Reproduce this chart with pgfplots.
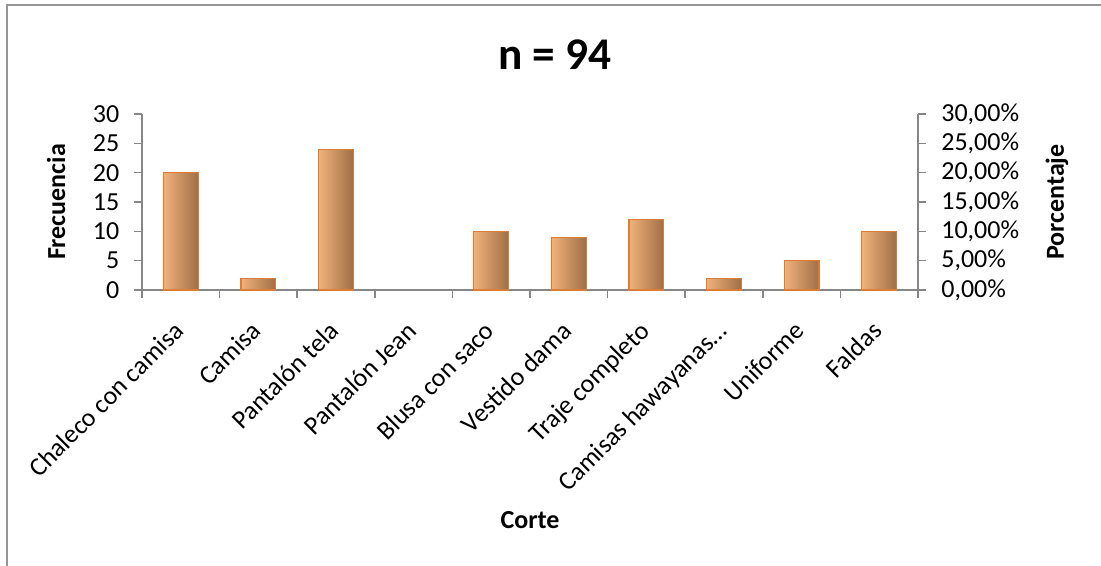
\documentclass[border=0pt]{standalone}
\usepackage{pgfplots}
\pgfplotsset{compat=1.18}
\usepackage{fontspec}
\setmainfont{Carlito}
\definecolor{axgray}{RGB}{134,134,134}
\definecolor{framegray}{RGB}{150,150,150}
\definecolor{barL}{RGB}{240,178,122}
\definecolor{barM}{RGB}{254,238,222}
\definecolor{barR}{RGB}{160,110,70}
\definecolor{barE}{RGB}{220,125,55}
\pgfplotsset{
  mybar/.style={ybar, bar width=26pt, bar shift=0pt, draw=barE, line width=0.9pt,
    left color=barL, middle color=barM, right color=barR},
}
\begin{document}
\begin{tikzpicture}
\useasboundingbox (-106.5pt,-206.25pt) rectangle (719.25pt,217.5pt);
\draw[framegray, line width=1.5pt] (-101.25pt,-260pt) rectangle (760pt,213.75pt);
\begin{axis}[
  scale only axis, width=582pt, height=132pt,
  xmin=-0.5, xmax=9.5, ymin=0, ymax=30,
  axis x line*=bottom, axis y line*=left,
  axis line style={axgray, line width=1.2pt},
  xtick={-0.5,0.5,1.5,2.5,3.5,4.5,5.5,6.5,7.5,8.5,9.5},
  x tick label as interval,
  xticklabels={Chaleco con camisa,Camisa,Pantalón tela,Pantalón Jean,Blusa con saco,Vestido dama,Traje completo,Camisas hawayanas…,Uniforme,Faldas},
  xticklabel style={xshift=-6.35pt, yshift=-11.45pt, rotate=45, anchor=north east, font=\fontsize{19.5}{22}\selectfont},
  ytick={0,5,10,15,20,25,30},
  yticklabel style={font=\fontsize{19.5}{22}\selectfont, xshift=-7.5pt},
  tick align=outside, major tick length=6pt,
  tick style={axgray, line width=1.2pt},
  /pgf/number format/assume math mode=true,
  ylabel={Frecuencia},
  every axis y label/.style={at={(rel axis cs:0,0.5)}, xshift=-64.5pt, rotate=90, anchor=center, font=\bfseries\fontsize{19.5}{23}\selectfont},
  xlabel={Corte},
  every axis x label/.style={at={(rel axis cs:0.5,0)}, yshift=-172.5pt, anchor=center, font=\bfseries\fontsize{19.5}{23}\selectfont},
  title={n = 94},
  every axis title/.style={at={(rel axis cs:0.5,1)}, xshift=18.75pt, yshift=44.25pt, anchor=center, font=\bfseries\fontsize{34}{40}\selectfont},
]
\addplot[mybar] coordinates {(0,20)};
\addplot[mybar] coordinates {(1,2)};
\addplot[mybar] coordinates {(2,24)};
\addplot[mybar, draw=none] coordinates {(3,0)};
\addplot[mybar] coordinates {(4,10)};
\addplot[mybar] coordinates {(5,9)};
\addplot[mybar] coordinates {(6,12)};
\addplot[mybar] coordinates {(7,2)};
\addplot[mybar] coordinates {(8,5)};
\addplot[mybar] coordinates {(9,10)};
\end{axis}
\begin{axis}[
  scale only axis, width=582pt, height=132pt,
  xmin=-0.5, xmax=9.5, ymin=0, ymax=0.3,
  axis x line=none, axis y line*=right,
  axis line style={axgray, line width=1.2pt},
  ytick={0,0.05,0.1,0.15,0.2,0.25,0.3},
  yticklabels={{0,00\%},{5,00\%},{10,00\%},{15,00\%},{20,00\%},{25,00\%},{30,00\%}},
  yticklabel style={font=\fontsize{19.5}{22}\selectfont, xshift=8pt},
  tick align=outside, major tick length=6pt,
  tick style={axgray, line width=1.2pt},
  ylabel={Porcentaje},
  every axis y label/.style={at={(rel axis cs:1,0.5)}, xshift=104.25pt, rotate=90, anchor=center, font=\bfseries\fontsize{19.5}{23}\selectfont},
]
\addplot[draw=none] coordinates {(0,0) (9,0.3)};
\end{axis}
\end{tikzpicture}
\end{document}
